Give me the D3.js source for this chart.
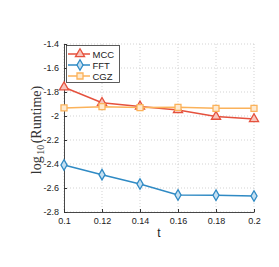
<!DOCTYPE html>
<html><head><meta charset="utf-8">
<script src="https://cdn.jsdelivr.net/npm/d3@7"></script>
<style>body{margin:0;background:#fff}svg{display:block}</style>
</head><body>
<script>
const tValues = [0.1, 0.12, 0.14, 0.16, 0.18, 0.2];
const mccValues = [-1.76, -1.89, -1.92, -1.95, -2.005, -2.025];
const fftValues = [-2.408, -2.489, -2.567, -2.658, -2.66, -2.667];
const cgzValues = [-1.933, -1.922, -1.93, -1.928, -1.936, -1.936];
const seriesNames = ["MCC", "FFT", "CGZ"];
const xTicks = [0.1, 0.12, 0.14, 0.16, 0.18, 0.2];
const xTickLabels = ["0.1", "0.12", "0.14", "0.16", "0.18", "0.2"];
const yTicks = [-1.4, -1.6, -1.8, -2, -2.2, -2.4, -2.6, -2.8];
const yTickLabels = ["-1.4", "-1.6", "-1.8", "-2", "-2.2", "-2.4", "-2.6", "-2.8"];

const W = 279, H = 267;
const svg = d3.select("body").append("svg").attr("width", W).attr("height", H);
const x = d3.scaleLinear().domain([0.1, 0.2]).range([64, 254]);
const y = d3.scaleLinear().domain([-2.8, -1.4]).range([212, 44]);

const styles = [
  {name: seriesNames[0], vals: mccValues, color: "#e5513d", fill: "#f7c5bc", shape: d3.symbolTriangle},
  {name: seriesNames[1], vals: fftValues, color: "#2f8ac4", fill: "#c5e0f2", shape: d3.symbolDiamond},
  {name: seriesNames[2], vals: cgzValues, color: "#fbb25a", fill: "#feead0", shape: d3.symbolSquare}
];

// grid
const g = svg.append("g");
g.selectAll(".gx").data(xTicks).enter().append("line")
  .attr("x1", d => x(d)).attr("x2", d => x(d)).attr("y1", 44).attr("y2", 212)
  .attr("stroke", "#c8c8c8").attr("stroke-width", 0.8).attr("stroke-dasharray", "1,2");
g.selectAll(".gy").data(yTicks).enter().append("line")
  .attr("y1", d => y(d)).attr("y2", d => y(d)).attr("x1", 64).attr("x2", 254)
  .attr("stroke", "#c8c8c8").attr("stroke-width", 0.8).attr("stroke-dasharray", "1,2");

// axes
const xAxis = d3.axisBottom(x).tickValues(xTicks).tickFormat((d, i) => xTickLabels[i]).tickSizeInner(-3).tickSizeOuter(0).tickPadding(6);
const yAxis = d3.axisLeft(y).tickValues(yTicks).tickFormat((d, i) => yTickLabels[i]).tickSizeInner(-3).tickSizeOuter(0).tickPadding(5);
const gx = svg.append("g").attr("transform", "translate(0,212)").call(xAxis);
const gy = svg.append("g").attr("transform", "translate(64,0)").call(yAxis);
[gx, gy].forEach(a => {
  a.select(".domain").attr("stroke", "#333").attr("stroke-width", 0.9);
  a.selectAll(".tick line").attr("stroke", "#333");
  a.selectAll("text").attr("font-family", "Liberation Sans, Arial, sans-serif").attr("font-size", 9).attr("fill", "#222");
});

// lines
const line = d3.line().x((d, i) => x(tValues[i])).y(d => y(d));
styles.forEach(s => {
  svg.append("path").datum(s.vals).attr("d", line).attr("fill", "none")
    .attr("stroke", s.color).attr("stroke-width", 1.5);
  svg.selectAll(null).data(s.vals).enter().append("path")
    .attr("d", d3.symbol().type(s.shape).size(s.shape === d3.symbolDiamond ? 32 : 36))
    .attr("transform", (d, i) => `translate(${x(tValues[i])},${y(d)})`)
    .attr("fill", s.fill).attr("stroke", s.color).attr("stroke-width", 1.3);
});

// legend
const lg = svg.append("g");
lg.append("rect").attr("x", 66.5).attr("y", 45.5).attr("width", 53).attr("height", 37)
  .attr("fill", "#fff").attr("stroke", "#333").attr("stroke-width", 0.8);
styles.forEach((s, i) => {
  const yy = 54 + i * 11;
  lg.append("line").attr("x1", 68).attr("x2", 90).attr("y1", yy).attr("y2", yy)
    .attr("stroke", s.color).attr("stroke-width", 1.5);
  lg.append("path").attr("d", d3.symbol().type(s.shape).size(s.shape === d3.symbolDiamond ? 32 : 36))
    .attr("transform", `translate(80,${yy})`).attr("fill", s.fill).attr("stroke", s.color).attr("stroke-width", 1.3);
  lg.append("text").attr("x", 92.5).attr("y", yy + 3.5).text(s.name)
    .attr("font-family", "Liberation Sans, Arial, sans-serif").attr("font-size", 9.5).attr("fill", "#222");
});

// axis labels
svg.append("text").attr("x", 159).attr("y", 237).attr("text-anchor", "middle")
  .attr("font-family", "Liberation Sans, Arial, sans-serif").attr("font-size", 12).attr("fill", "#222").text("t");
const yl = svg.append("text").attr("transform", "translate(41,130) rotate(-90)").attr("text-anchor", "middle")
  .attr("font-family", "Liberation Serif, Times New Roman, serif").attr("font-size", 14).attr("fill", "#333");
yl.append("tspan").text("log");
yl.append("tspan").attr("font-size", 10).attr("dx", 1.5).attr("dy", 3).text("10");
yl.append("tspan").attr("dx", 1.5).attr("dy", -3).text("(Runtime)");
</script>
</body></html>
